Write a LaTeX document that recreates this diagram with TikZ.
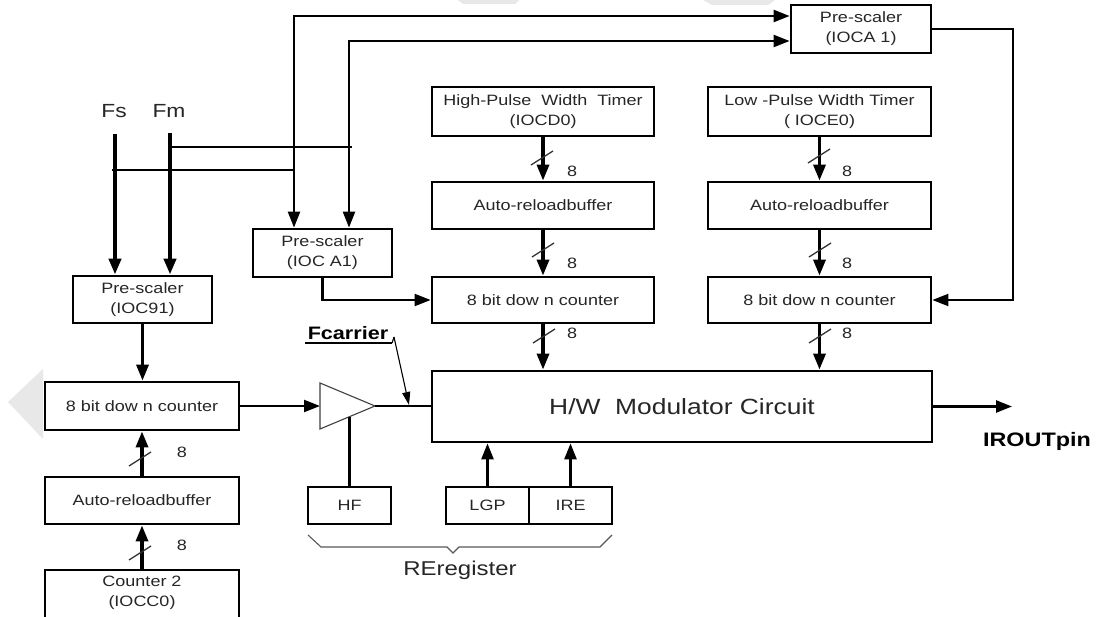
\documentclass[tikz,border=0pt]{standalone}
\usepackage{fontspec}
\setmainfont{Liberation Sans}[FakeStretch=1.2]
\usetikzlibrary{arrows.meta}
\begin{document}
\begin{tikzpicture}[x=1pt,y=-1pt,
  box/.style={draw=black, line width=2.8pt, inner sep=0pt, align=center, text=black!85, font=\fontsize{15}{20}\selectfont},
  lbl/.style={text=black!85, inner sep=0pt, font=\fontsize{15}{18}\selectfont},
  thickln/.style={line width=3.3pt},
  thinln/.style={line width=2.1pt},
  arr/.style={-{Triangle[length=16pt,width=12pt]}},
  arrtwo/.style={{Triangle[length=16pt,width=12pt]}-{Triangle[length=16pt,width=12pt]}},
  bus/.pic={\draw[line width=1.3pt, black!80] (-11,7) -- (11,-7);},
]
\useasboundingbox (0,0) rectangle (1098,617);
\clip (0,0) rectangle (1098,617);
\fill[white] (0,0) rectangle (1098,617);
% faint watermark shapes
\fill[gray!18] (8,402) -- (43,369) -- (43,439) -- cycle;
\fill[gray!18] (458,0) -- (519,0) -- (515,4) -- (463,4) -- cycle;
\fill[gray!18] (703,0) -- (775,0) -- (768,5) -- (712,5) -- cycle;

% boxes
\node[box, minimum width=140pt, minimum height=48pt] (preTop) at (861,29) {Pre-scaler\\(IOCA 1)};
\node[box, minimum width=139pt, minimum height=48pt] (preMid) at (322.5,253) {Pre-scaler\\(IOC A1)};
\node[box, minimum width=139pt, minimum height=47pt] (psL) at (142.5,299.5) {Pre-scaler\\(IOC91)};
\node[box, minimum width=222pt, minimum height=49pt] (hp) at (543,111.5) {High-Pulse\ \ Width\ \ Timer\\(IOCD0)};
\node[box, minimum width=222pt, minimum height=47pt] (arM) at (543,205.5) {Auto-reloadbuffer};
\node[box, minimum width=222pt, minimum height=46pt] (cntM) at (543,300) {8 bit dow n counter};
\node[box, minimum width=223pt, minimum height=49pt] (lp) at (819.5,111.5) {Low -Pulse Width Timer\\(\ IOCE0)};
\node[box, minimum width=223pt, minimum height=47pt] (arR) at (819.5,205.5) {Auto-reloadbuffer};
\node[box, minimum width=223pt, minimum height=46pt] (cntR) at (819.5,300) {8 bit dow n counter};
\node[box, minimum width=500pt, minimum height=71pt, font=\fontsize{22}{26}\selectfont] (hw) at (682,406.5) {H/W\ \ Modulator Circuit};
\node[box, minimum width=194pt, minimum height=48pt] (cntL) at (142,406) {8 bit dow n counter};
\node[box, minimum width=194pt, minimum height=47pt] (arL) at (142,500.5) {Auto-reloadbuffer};
\node[box, minimum width=194pt, minimum height=80pt] (c2) at (142,610) {};
\node[lbl, align=center, font=\fontsize{15}{20}\selectfont] (c2t) at (142,593) {Counter 2\\(IOCC0)};
\node[box, minimum width=83pt, minimum height=37pt] (hf) at (349.5,505.5) {HF};
\node[box, minimum width=83pt, minimum height=37pt] (lgp) at (487.5,505.5) {LGP};
\node[box, minimum width=83pt, minimum height=37pt] (ire) at (570.5,505.5) {IRE};

% labels
\node[lbl, font=\fontsize{19}{21}\selectfont] (fs) at (114,111) {Fs};
\node[lbl, font=\fontsize{19}{21}\selectfont] (fm) at (169,111) {Fm};
\node[lbl, text=black, font=\bfseries\fontsize{18}{20}\selectfont] (fcar) at (348,333) {Fcarrier};
\node[lbl, text=black, font=\bfseries\fontsize{19.5}{21}\selectfont] (iroutl) at (1037,441) {IROUTpin};
\node[lbl, font=\fontsize{20}{22}\selectfont] (rereg) at (460,570) {REregister};
\node[lbl] (m1) at (572,171) {8};
\node[lbl] (m2) at (572,263) {8};
\node[lbl] (m3) at (572,333) {8};
\node[lbl] (r1) at (847,171) {8};
\node[lbl] (r2) at (847,263) {8};
\node[lbl] (r3) at (847,333) {8};
\node[lbl] (l1) at (182,452) {8};
\node[lbl] (l2) at (182,545) {8};

% coordinates
\coordinate (fsTop) at (115,134);
\coordinate (fmTop) at (170,133);
\coordinate (fsL) at (112,170);
\coordinate (fsR) at (295,170);
\coordinate (fmL) at (170,147);
\coordinate (fmR) at (352,147);
\coordinate (outerTop) at (294,16);
\coordinate (innerTop) at (349,41);
\coordinate (fbR) at (1013,29);
\coordinate (ampIn) at (320,406);
\coordinate (ampOut) at (375,406);
\coordinate (hfTop) at (349.5,417);
\coordinate (outEnd) at (1012,406.5);
\coordinate (fcS) at (394,337);
\coordinate (fcT) at (409,405);

% Fs / Fm
\draw[line width=4pt, arr] (fsTop) -- (fsTop |- psL.north);
\draw[line width=4pt, arr] (fmTop) -- (fmTop |- psL.north);
\draw[thinln] (fsL) -- (fsR);
\draw[thinln] (fmL) -- (fmR);
\draw[line width=2.2pt, arrtwo] (outerTop -| preTop.west) -- (outerTop) -- (outerTop |- preMid.north);
\draw[line width=2.2pt, arrtwo] (innerTop -| preTop.west) -- (innerTop) -- (innerTop |- preMid.north);

% pre-scaler outputs
\draw[thinln, arr] (preMid.south) |- (cntM.west);
\draw[thinln, arr] (preTop.east) -- (fbR) |- (cntR.east);

% columns
\draw[thickln, arr] (hp) -- (arM);
\draw[thickln, arr] (arM) -- (cntM);
\draw[thickln, arr] (cntM.south) -- (cntM.south |- hw.north);
\draw[thickln, arr] (lp) -- (arR);
\draw[thickln, arr] (arR) -- (cntR);
\draw[thickln, arr] (cntR.south) -- (cntR.south |- hw.north);
\draw[thickln, arr] (psL.south) -- (psL.south |- cntL.north);
\draw[thickln, arr] (arL) -- (cntL);
\draw[thickln, arr] (c2.north) -- (arL.south);

\pic at (542,158) {bus};
\pic at (543,250) {bus};
\pic at (544,336) {bus};
\pic at (819,156) {bus};
\pic at (820,250) {bus};
\pic at (820,336) {bus};
\pic at (140,459) {bus};
\pic at (140,553) {bus};

% amplifier and modulator inputs
\draw[thinln, arr] (cntL.east) -- (ampIn);
\draw[line width=1.1pt, black!75] (320,383) -- (ampOut) -- (320,429) -- cycle;
\draw[thinln] (ampOut) -- (ampOut -| hw.west);
\draw[thinln] (hf.north) -- (hfTop);
\draw[line width=2.6pt, arr] (lgp.north) -- (lgp.north |- hw.south);
\draw[line width=2.6pt, arr] (ire.north) -- (ire.north |- hw.south);
\draw[line width=2.4pt, arr] (hw.east) -- (outEnd);

% Fcarrier
\draw[line width=1.2pt] (305,343) -- (392,343);
\draw[line width=1.1pt] (392,343) -- (fcS);
\draw[line width=1.1pt, -{Triangle[length=13pt,width=8pt]}] (fcS) -- (fcT);

% brace
\draw[line width=1.1pt, black!65] (308,535) -- (321,547) -- (447,547) -- (453,553) -- (459,547) -- (600,547) -- (612,535);
\end{tikzpicture}
\end{document}
